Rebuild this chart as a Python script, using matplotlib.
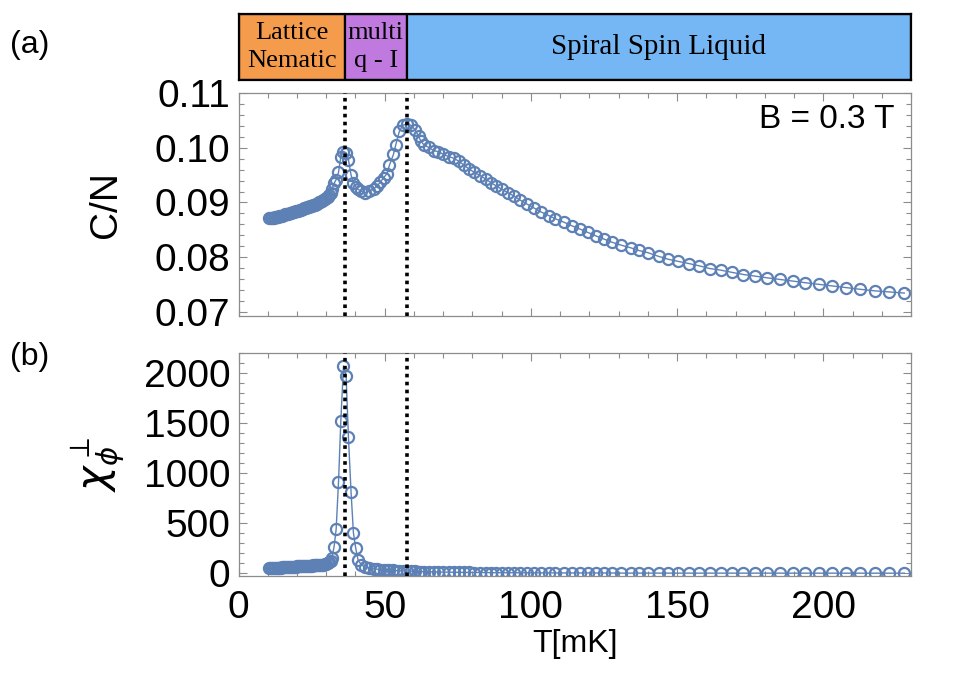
import numpy as np
import matplotlib
matplotlib.use("Agg")
import matplotlib.pyplot as plt
from matplotlib.ticker import MultipleLocator

# temperature grid [mK]
temperature = [
    10.5, 11.0, 11.5, 12.0, 12.5, 13.0, 13.5, 14.0, 14.5, 15.0,
    15.5, 16.0, 16.5, 17.0, 17.5, 18.0, 18.5, 19.0, 19.5, 20.0,
    20.5, 21.0, 21.5, 22.0, 22.5, 23.0, 23.5, 24.0, 24.5, 25.0,
    25.5, 26.0, 26.5, 27.0, 27.5, 28.0, 28.5, 29.0, 29.5, 30.0,
    30.5, 31.0, 31.5,
    31.9, 32.7, 33.4, 34.2, 35.0, 35.9, 36.8, 37.6, 38.5, 39.3,
    40.1, 40.9, 42.0, 43.3, 44.7, 46.2, 47.3, 48.5, 49.6, 50.8,
    51.6, 53.0, 53.8, 55.0, 56.1, 57.6, 59.1, 60.4, 61.6, 62.4,
    63.5, 65.0, 66.7, 68.4, 70.1, 71.9, 73.6, 75.5, 77.2, 78.9,
    80.7, 82.7, 84.5, 86.4, 88.2, 90.1, 92.1, 94.1, 96.4, 98.7,
    101.0, 103.3, 106.1, 108.4, 111.2, 114.1, 116.9, 119.5, 122.1, 124.9,
    127.8, 130.7, 134.1, 136.9, 140.0, 143.8, 146.9, 150.4, 154.1, 157.5,
    161.1, 164.9, 168.7, 172.7, 176.7, 180.7, 185.2, 189.5, 193.8, 198.4,
    202.9, 207.9, 212.5, 217.7, 222.5, 227.7,
]

# specific heat per spin
heat_capacity = [
    0.0871, 0.0871, 0.0872, 0.0872, 0.0873, 0.0874, 0.0874, 0.0875, 0.0876, 0.0876,
    0.0877, 0.0878, 0.0879, 0.0879, 0.0880, 0.0881, 0.0882, 0.0883, 0.0884, 0.0884,
    0.0885, 0.0886, 0.0887, 0.0888, 0.0889, 0.0890, 0.0891, 0.0892, 0.0893, 0.0894,
    0.0895, 0.0896, 0.0897, 0.0898, 0.0900, 0.0901, 0.0903, 0.0904, 0.0906, 0.0908,
    0.0910, 0.0913, 0.0917,
    0.0924, 0.0935, 0.0942, 0.0955, 0.0984, 0.0993, 0.0991, 0.0978, 0.0950, 0.0936,
    0.0929, 0.0924, 0.0921, 0.0918, 0.0921, 0.0925, 0.0930, 0.0937, 0.0945, 0.0953,
    0.0968, 0.0988, 0.1006, 0.1030, 0.1041, 0.1044, 0.1041, 0.1033, 0.1021, 0.1012,
    0.1005, 0.1001, 0.0995, 0.0993, 0.0988, 0.0984, 0.0981, 0.0975, 0.0968, 0.0961,
    0.0955, 0.0949, 0.0943, 0.0936, 0.0930, 0.0924, 0.0918, 0.0912, 0.0904, 0.0897,
    0.0890, 0.0883, 0.0876, 0.0870, 0.0864, 0.0857, 0.0851, 0.0845, 0.0839, 0.0833,
    0.0827, 0.0822, 0.0817, 0.0812, 0.0808, 0.0801, 0.0796, 0.0792, 0.0788, 0.0784,
    0.0779, 0.0776, 0.0772, 0.0768, 0.0765, 0.0762, 0.0759, 0.0756, 0.0753, 0.0750,
    0.0747, 0.0744, 0.0741, 0.0738, 0.0736, 0.0734,
]

# perpendicular susceptibility
chi_perp = [
    50, 51, 52, 53, 54, 55, 56, 57, 58, 59,
    60, 61, 62, 63, 64, 65, 66, 67, 68, 69,
    70, 71, 72, 72, 73, 74, 75, 76, 77, 78,
    79, 80, 81, 82, 83, 84, 86, 88, 90, 94,
    100, 112, 128,
    150, 266, 443, 910, 1526, 2073, 1976, 1360, 810, 406,
    250, 133, 85, 62, 52, 45, 41, 38, 35, 33,
    31, 29, 27, 26, 24, 22, 21, 19, 18, 17,
    16, 15, 14, 13, 12, 11, 11, 10, 9, 9,
    8, 8, 7, 7, 6, 6, 6, 5, 5, 5,
    4, 4, 4, 4, 3, 3, 3, 3, 3, 3,
    3, 2, 2, 2, 2, 2, 2, 2, 2, 2,
    2, 2, 2, 1, 1, 1, 1, 1, 1, 1,
    1, 1, 1, 1, 1, 1,
]

# phase boundaries [mK]
t_nematic = 36.3
t_multiq = 57.5
phase_names = ["Lattice\nNematic", "multi\nq - I", "Spiral Spin Liquid"]
phase_edges = [0, t_nematic, t_multiq, 230]
phase_colors = ["#F59C4C", "#C07ADF", "#75B6F4"]
phase_sizes = [19, 19, 21]

plt.rcParams["font.family"] = ["Liberation Sans", "DejaVu Sans"]
plt.rcParams["mathtext.fontset"] = "dejavusans"

blue = "#5E81B5"
frame = "#8c8c8c"
xlim = (0, 230)

fig = plt.figure(figsize=(9.72, 6.92), dpi=100)
W, H = 972.0, 692.0


def box(x0, y0, x1, y1):
    return [x0 / W, 1 - y1 / H, (x1 - x0) / W, (y1 - y0) / H]


ax_bar = fig.add_axes(box(238.5, 14, 911, 80))
ax_c = fig.add_axes(box(238.5, 92.7, 911, 316))
ax_x = fig.add_axes(box(238.5, 352.7, 911, 576))

# phase bar
for name, left, right, col, fs in zip(phase_names, phase_edges[:-1], phase_edges[1:],
                                      phase_colors, phase_sizes):
    ax_bar.axvspan(left, right, facecolor=col, edgecolor="black", lw=1.6)
    ax_bar.text((left + right) / 2, 0.5, name, ha="center", va="center",
                family=["Liberation Serif", "DejaVu Serif"], fontsize=fs,
                linespacing=1.35)
ax_bar.set_xlim(*xlim)
ax_bar.set_ylim(0, 1)
ax_bar.set_xticks([])
ax_bar.set_yticks([])
for s in ax_bar.spines.values():
    s.set_linewidth(1.6)

line_kw = dict(color=blue, lw=1.0, marker="o", ms=8, mfc="none", mec=blue, mew=1.6)

ax_c.plot(temperature, heat_capacity, **line_kw)
ax_c.set_ylim(0.0692, 0.1101)
ax_c.yaxis.set_minor_locator(MultipleLocator(0.002))
ax_c.set_yticks([0.07, 0.08, 0.09, 0.10, 0.11])
ax_c.set_yticklabels(["0.07", "0.08", "0.09", "0.10", "0.11"])
ax_c.tick_params(labelbottom=False)
ax_c.set_ylabel("C/N", fontsize=28, labelpad=22)
ax_c.text(0.975, 0.88, "B = 0.3 T", transform=ax_c.transAxes, ha="right", va="center",
          fontsize=24)

ax_x.plot(temperature, chi_perp, **line_kw)
ax_x.set_ylim(-27, 2206)
ax_x.yaxis.set_major_locator(MultipleLocator(500))
ax_x.yaxis.set_minor_locator(MultipleLocator(100))
ax_x.set_ylabel(r"$\chi_{\phi}^{\perp}$", fontsize=30, labelpad=12)
ax_x.set_xlabel("T[mK]", fontsize=23, labelpad=2)

for ax in (ax_c, ax_x):
    ax.set_xlim(*xlim)
    ax.xaxis.set_major_locator(MultipleLocator(50))
    ax.xaxis.set_minor_locator(MultipleLocator(10))
    ax.tick_params(which="both", direction="in", top=True, right=True, color=frame,
                   labelsize=28, width=0.8)
    ax.tick_params(which="major", length=6, pad=6)
    ax.tick_params(which="minor", length=3.5)
    ax.tick_params(axis="x", pad=10)
    for s in ax.spines.values():
        s.set_color(frame)
        s.set_linewidth(0.9)
    for t in (t_nematic, t_multiq):
        ax.axvline(t, color="black", lw=2.6, dashes=(1, 1.2), zorder=5)

fig.text(10 / W, 1 - 45 / H, "(a)", fontsize=23, va="center", ha="left")
fig.text(10 / W, 1 - 357 / H, "(b)", fontsize=23, va="center", ha="left")

fig.savefig("out.png", dpi=100)
